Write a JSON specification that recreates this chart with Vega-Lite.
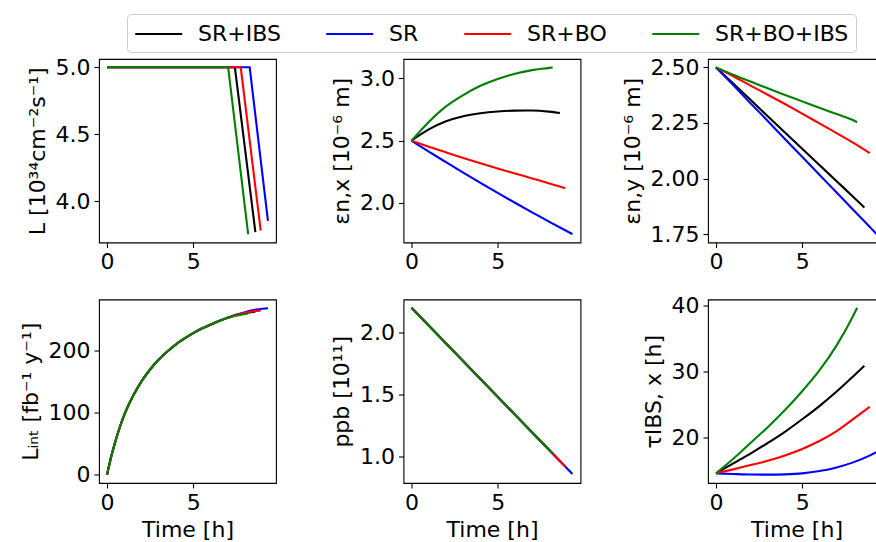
{
  "$schema": "https://vega.github.io/schema/vega-lite/v6.json",
  "padding": {"left": 18, "top": 13, "right": 0, "bottom": 0},
  "background": "white",
  "datasets": {
    "L": [
      {"s": "SR+IBS", "t": 0, "v": 5.0}, {"s": "SR+IBS", "t": 7.42, "v": 5.0}, {"s": "SR+IBS", "t": 8.61, "v": 3.77},
      {"s": "SR", "t": 0, "v": 5.0}, {"s": "SR", "t": 8.28, "v": 5.0}, {"s": "SR", "t": 9.34, "v": 3.853},
      {"s": "SR+BO", "t": 0, "v": 5.0}, {"s": "SR+BO", "t": 7.76, "v": 5.0}, {"s": "SR+BO", "t": 8.92, "v": 3.78},
      {"s": "SR+BO+IBS", "t": 0, "v": 5.0}, {"s": "SR+BO+IBS", "t": 7.03, "v": 5.0}, {"s": "SR+BO+IBS", "t": 8.19, "v": 3.754}
    ],
    "ex": [
      {"s": "SR+IBS", "t": 0, "v": 2.5}, {"s": "SR+IBS", "t": 1, "v": 2.59}, {"s": "SR+IBS", "t": 2, "v": 2.655}, {"s": "SR+IBS", "t": 3, "v": 2.696}, {"s": "SR+IBS", "t": 4, "v": 2.72}, {"s": "SR+IBS", "t": 5, "v": 2.734}, {"s": "SR+IBS", "t": 6, "v": 2.741}, {"s": "SR+IBS", "t": 7, "v": 2.742}, {"s": "SR+IBS", "t": 8, "v": 2.733}, {"s": "SR+IBS", "t": 8.61, "v": 2.722},
      {"s": "SR", "t": 0, "v": 2.5}, {"s": "SR", "t": 1, "v": 2.412}, {"s": "SR", "t": 2, "v": 2.327}, {"s": "SR", "t": 3, "v": 2.243}, {"s": "SR", "t": 4, "v": 2.161}, {"s": "SR", "t": 5, "v": 2.081}, {"s": "SR", "t": 6, "v": 2.002}, {"s": "SR", "t": 7, "v": 1.924}, {"s": "SR", "t": 8, "v": 1.849}, {"s": "SR", "t": 9, "v": 1.775}, {"s": "SR", "t": 9.34, "v": 1.75},
      {"s": "SR+BO", "t": 0, "v": 2.5}, {"s": "SR+BO", "t": 1, "v": 2.452}, {"s": "SR+BO", "t": 2, "v": 2.406}, {"s": "SR+BO", "t": 3, "v": 2.361}, {"s": "SR+BO", "t": 4, "v": 2.318}, {"s": "SR+BO", "t": 5, "v": 2.277}, {"s": "SR+BO", "t": 6, "v": 2.237}, {"s": "SR+BO", "t": 7, "v": 2.197}, {"s": "SR+BO", "t": 8, "v": 2.157}, {"s": "SR+BO", "t": 8.92, "v": 2.118},
      {"s": "SR+BO+IBS", "t": 0, "v": 2.5}, {"s": "SR+BO+IBS", "t": 1, "v": 2.65}, {"s": "SR+BO+IBS", "t": 2, "v": 2.775}, {"s": "SR+BO+IBS", "t": 3, "v": 2.866}, {"s": "SR+BO+IBS", "t": 4, "v": 2.94}, {"s": "SR+BO+IBS", "t": 5, "v": 2.995}, {"s": "SR+BO+IBS", "t": 6, "v": 3.037}, {"s": "SR+BO+IBS", "t": 7, "v": 3.066}, {"s": "SR+BO+IBS", "t": 8, "v": 3.084}, {"s": "SR+BO+IBS", "t": 8.19, "v": 3.088}
    ],
    "ey": [
      {"s": "SR+IBS", "t": 0, "v": 2.5}, {"s": "SR+IBS", "t": 1, "v": 2.427}, {"s": "SR+IBS", "t": 2, "v": 2.354}, {"s": "SR+IBS", "t": 3, "v": 2.28}, {"s": "SR+IBS", "t": 4, "v": 2.207}, {"s": "SR+IBS", "t": 5, "v": 2.134}, {"s": "SR+IBS", "t": 6, "v": 2.061}, {"s": "SR+IBS", "t": 7, "v": 1.988}, {"s": "SR+IBS", "t": 8, "v": 1.915}, {"s": "SR+IBS", "t": 8.61, "v": 1.87},
      {"s": "SR", "t": 0, "v": 2.5}, {"s": "SR", "t": 1, "v": 2.42}, {"s": "SR", "t": 2, "v": 2.339}, {"s": "SR", "t": 3, "v": 2.259}, {"s": "SR", "t": 4, "v": 2.178}, {"s": "SR", "t": 5, "v": 2.098}, {"s": "SR", "t": 6, "v": 2.017}, {"s": "SR", "t": 7, "v": 1.937}, {"s": "SR", "t": 8, "v": 1.856}, {"s": "SR", "t": 9, "v": 1.776}, {"s": "SR", "t": 9.34, "v": 1.748},
      {"s": "SR+BO", "t": 0, "v": 2.5}, {"s": "SR+BO", "t": 1, "v": 2.46}, {"s": "SR+BO", "t": 2, "v": 2.418}, {"s": "SR+BO", "t": 3, "v": 2.377}, {"s": "SR+BO", "t": 4, "v": 2.335}, {"s": "SR+BO", "t": 5, "v": 2.292}, {"s": "SR+BO", "t": 6, "v": 2.248}, {"s": "SR+BO", "t": 7, "v": 2.204}, {"s": "SR+BO", "t": 8, "v": 2.159}, {"s": "SR+BO", "t": 8.92, "v": 2.114},
      {"s": "SR+BO+IBS", "t": 0, "v": 2.5}, {"s": "SR+BO+IBS", "t": 1, "v": 2.467}, {"s": "SR+BO+IBS", "t": 2, "v": 2.436}, {"s": "SR+BO+IBS", "t": 3, "v": 2.406}, {"s": "SR+BO+IBS", "t": 4, "v": 2.376}, {"s": "SR+BO+IBS", "t": 5, "v": 2.347}, {"s": "SR+BO+IBS", "t": 6, "v": 2.318}, {"s": "SR+BO+IBS", "t": 7, "v": 2.29}, {"s": "SR+BO+IBS", "t": 8, "v": 2.261}, {"s": "SR+BO+IBS", "t": 8.19, "v": 2.253}
    ],
    "lint": [
      {"s": "SR+IBS", "t": 0, "v": 0}, {"s": "SR+IBS", "t": 0.25, "v": 30}, {"s": "SR+IBS", "t": 0.5, "v": 55}, {"s": "SR+IBS", "t": 0.75, "v": 77}, {"s": "SR+IBS", "t": 1, "v": 96}, {"s": "SR+IBS", "t": 1.5, "v": 126}, {"s": "SR+IBS", "t": 2, "v": 150}, {"s": "SR+IBS", "t": 2.5, "v": 169}, {"s": "SR+IBS", "t": 3, "v": 185}, {"s": "SR+IBS", "t": 3.5, "v": 198}, {"s": "SR+IBS", "t": 4, "v": 209.5}, {"s": "SR+IBS", "t": 4.5, "v": 219}, {"s": "SR+IBS", "t": 5, "v": 227.5}, {"s": "SR+IBS", "t": 5.5, "v": 235}, {"s": "SR+IBS", "t": 6, "v": 241}, {"s": "SR+IBS", "t": 6.5, "v": 247}, {"s": "SR+IBS", "t": 7, "v": 252}, {"s": "SR+IBS", "t": 7.42, "v": 256}, {"s": "SR+IBS", "t": 8, "v": 259.8}, {"s": "SR+IBS", "t": 8.61, "v": 262},
      {"s": "SR", "t": 0, "v": 0}, {"s": "SR", "t": 0.25, "v": 30}, {"s": "SR", "t": 0.5, "v": 55}, {"s": "SR", "t": 0.75, "v": 77}, {"s": "SR", "t": 1, "v": 96}, {"s": "SR", "t": 1.5, "v": 126}, {"s": "SR", "t": 2, "v": 150}, {"s": "SR", "t": 2.5, "v": 169}, {"s": "SR", "t": 3, "v": 185}, {"s": "SR", "t": 3.5, "v": 198}, {"s": "SR", "t": 4, "v": 209.5}, {"s": "SR", "t": 4.5, "v": 219}, {"s": "SR", "t": 5, "v": 227.5}, {"s": "SR", "t": 5.5, "v": 235}, {"s": "SR", "t": 6, "v": 241}, {"s": "SR", "t": 6.5, "v": 247}, {"s": "SR", "t": 7, "v": 252}, {"s": "SR", "t": 7.5, "v": 256.8}, {"s": "SR", "t": 8, "v": 261}, {"s": "SR", "t": 8.28, "v": 263.2}, {"s": "SR", "t": 8.8, "v": 265.8}, {"s": "SR", "t": 9.34, "v": 267.5},
      {"s": "SR+BO", "t": 0, "v": 0}, {"s": "SR+BO", "t": 0.25, "v": 30}, {"s": "SR+BO", "t": 0.5, "v": 55}, {"s": "SR+BO", "t": 0.75, "v": 77}, {"s": "SR+BO", "t": 1, "v": 96}, {"s": "SR+BO", "t": 1.5, "v": 126}, {"s": "SR+BO", "t": 2, "v": 150}, {"s": "SR+BO", "t": 2.5, "v": 169}, {"s": "SR+BO", "t": 3, "v": 185}, {"s": "SR+BO", "t": 3.5, "v": 198}, {"s": "SR+BO", "t": 4, "v": 209.5}, {"s": "SR+BO", "t": 4.5, "v": 219}, {"s": "SR+BO", "t": 5, "v": 227.5}, {"s": "SR+BO", "t": 5.5, "v": 235}, {"s": "SR+BO", "t": 6, "v": 241}, {"s": "SR+BO", "t": 6.5, "v": 247}, {"s": "SR+BO", "t": 7, "v": 252}, {"s": "SR+BO", "t": 7.5, "v": 256.8}, {"s": "SR+BO", "t": 7.76, "v": 258.7}, {"s": "SR+BO", "t": 8.3, "v": 261.8}, {"s": "SR+BO", "t": 8.92, "v": 264},
      {"s": "SR+BO+IBS", "t": 0, "v": 0}, {"s": "SR+BO+IBS", "t": 0.25, "v": 30}, {"s": "SR+BO+IBS", "t": 0.5, "v": 55}, {"s": "SR+BO+IBS", "t": 0.75, "v": 77}, {"s": "SR+BO+IBS", "t": 1, "v": 96}, {"s": "SR+BO+IBS", "t": 1.5, "v": 126}, {"s": "SR+BO+IBS", "t": 2, "v": 150}, {"s": "SR+BO+IBS", "t": 2.5, "v": 169}, {"s": "SR+BO+IBS", "t": 3, "v": 185}, {"s": "SR+BO+IBS", "t": 3.5, "v": 198}, {"s": "SR+BO+IBS", "t": 4, "v": 209.5}, {"s": "SR+BO+IBS", "t": 4.5, "v": 219}, {"s": "SR+BO+IBS", "t": 5, "v": 227.5}, {"s": "SR+BO+IBS", "t": 5.5, "v": 235}, {"s": "SR+BO+IBS", "t": 6, "v": 241}, {"s": "SR+BO+IBS", "t": 6.5, "v": 247}, {"s": "SR+BO+IBS", "t": 7, "v": 252}, {"s": "SR+BO+IBS", "t": 7.6, "v": 256}, {"s": "SR+BO+IBS", "t": 8.19, "v": 259}
    ],
    "ppb": [
      {"s": "SR+IBS", "t": 0, "v": 2.2}, {"s": "SR+IBS", "t": 4, "v": 1.627}, {"s": "SR+IBS", "t": 8.61, "v": 0.966},
      {"s": "SR", "t": 0, "v": 2.2}, {"s": "SR", "t": 4, "v": 1.627}, {"s": "SR", "t": 9.34, "v": 0.862},
      {"s": "SR+BO", "t": 0, "v": 2.2}, {"s": "SR+BO", "t": 4, "v": 1.627}, {"s": "SR+BO", "t": 8.92, "v": 0.922},
      {"s": "SR+BO+IBS", "t": 0, "v": 2.2}, {"s": "SR+BO+IBS", "t": 4, "v": 1.627}, {"s": "SR+BO+IBS", "t": 8.19, "v": 1.026}
    ],
    "tau": [
      {"s": "SR+IBS", "t": 0, "v": 14.6}, {"s": "SR+IBS", "t": 1, "v": 16.1}, {"s": "SR+IBS", "t": 2, "v": 17.6}, {"s": "SR+IBS", "t": 3, "v": 19.2}, {"s": "SR+IBS", "t": 4, "v": 20.9}, {"s": "SR+IBS", "t": 5, "v": 22.8}, {"s": "SR+IBS", "t": 6, "v": 24.8}, {"s": "SR+IBS", "t": 7, "v": 27.0}, {"s": "SR+IBS", "t": 8, "v": 29.4}, {"s": "SR+IBS", "t": 8.61, "v": 30.9},
      {"s": "SR", "t": 0, "v": 14.6}, {"s": "SR", "t": 1, "v": 14.5}, {"s": "SR", "t": 2, "v": 14.42}, {"s": "SR", "t": 3, "v": 14.4}, {"s": "SR", "t": 4, "v": 14.45}, {"s": "SR", "t": 5, "v": 14.6}, {"s": "SR", "t": 6, "v": 14.95}, {"s": "SR", "t": 7, "v": 15.5}, {"s": "SR", "t": 8, "v": 16.3}, {"s": "SR", "t": 9, "v": 17.4}, {"s": "SR", "t": 9.34, "v": 17.85},
      {"s": "SR+BO", "t": 0, "v": 14.6}, {"s": "SR+BO", "t": 1, "v": 15.2}, {"s": "SR+BO", "t": 2, "v": 15.85}, {"s": "SR+BO", "t": 3, "v": 16.5}, {"s": "SR+BO", "t": 4, "v": 17.3}, {"s": "SR+BO", "t": 5, "v": 18.3}, {"s": "SR+BO", "t": 6, "v": 19.5}, {"s": "SR+BO", "t": 7, "v": 21.0}, {"s": "SR+BO", "t": 8, "v": 22.9}, {"s": "SR+BO", "t": 8.92, "v": 24.7},
      {"s": "SR+BO+IBS", "t": 0, "v": 14.6}, {"s": "SR+BO+IBS", "t": 1, "v": 16.8}, {"s": "SR+BO+IBS", "t": 2, "v": 19.2}, {"s": "SR+BO+IBS", "t": 3, "v": 21.6}, {"s": "SR+BO+IBS", "t": 4, "v": 24.2}, {"s": "SR+BO+IBS", "t": 5, "v": 27.05}, {"s": "SR+BO+IBS", "t": 6, "v": 30.2}, {"s": "SR+BO+IBS", "t": 7, "v": 34.0}, {"s": "SR+BO+IBS", "t": 8, "v": 38.7}, {"s": "SR+BO+IBS", "t": 8.19, "v": 39.7}
    ]
  },
  "columns": 3,
  "spacing": {"row": 56.5, "column": 127.5},
  "bounds": "flush",
  "concat": [
    {
      "width": 177, "height": 183.5,
      "data": {"name": "L"},
      "mark": {"type": "line", "strokeWidth": 2.1},
      "encoding": {
        "x": {"field": "t", "type": "quantitative", "scale": {"domain": [-0.467, 9.807], "nice": false, "zero": false}, "axis": {"values": [0, 5], "title": null}},
        "y": {"field": "v", "type": "quantitative", "scale": {"domain": [3.692, 5.062], "nice": false, "zero": false}, "axis": {"values": [4.0, 4.5, 5.0], "format": ".1f", "title": "L [10³⁴cm⁻²s⁻¹]"}},
        "color": {"field": "s", "type": "nominal", "scale": {"domain": ["SR+IBS", "SR", "SR+BO", "SR+BO+IBS"], "range": ["#000000", "#0000ff", "#ff0000", "#008000"]}, "legend": {"orient": "none", "legendX": 28, "legendY": -45, "direction": "horizontal", "columns": 4, "title": null}},
        "order": {"field": "t", "type": "quantitative"}
      }
    },
    {
      "width": 177, "height": 183.5,
      "data": {"name": "ex"},
      "mark": {"type": "line", "strokeWidth": 2.1, "interpolate": "monotone"},
      "encoding": {
        "x": {"field": "t", "type": "quantitative", "scale": {"domain": [-0.467, 9.807], "nice": false, "zero": false}, "axis": {"values": [0, 5], "title": null}},
        "y": {"field": "v", "type": "quantitative", "scale": {"domain": [1.683, 3.155], "nice": false, "zero": false}, "axis": {"values": [2.0, 2.5, 3.0], "format": ".1f", "title": "εn,x [10⁻⁶ m]"}},
        "color": {"field": "s", "type": "nominal", "scale": {"domain": ["SR+IBS", "SR", "SR+BO", "SR+BO+IBS"], "range": ["#000000", "#0000ff", "#ff0000", "#008000"]}, "legend": {"orient": "none", "legendX": 28, "legendY": -45, "direction": "horizontal", "columns": 4, "title": null}},
        "order": {"field": "t", "type": "quantitative"}
      }
    },
    {
      "width": 177, "height": 183.5,
      "data": {"name": "ey"},
      "mark": {"type": "line", "strokeWidth": 2.1, "interpolate": "monotone"},
      "encoding": {
        "x": {"field": "t", "type": "quantitative", "scale": {"domain": [-0.467, 9.807], "nice": false, "zero": false}, "axis": {"values": [0, 5], "title": null}},
        "y": {"field": "v", "type": "quantitative", "scale": {"domain": [1.7125, 2.5375], "nice": false, "zero": false}, "axis": {"values": [1.75, 2.0, 2.25, 2.5], "format": ".2f", "title": "εn,y [10⁻⁶ m]"}},
        "color": {"field": "s", "type": "nominal", "scale": {"domain": ["SR+IBS", "SR", "SR+BO", "SR+BO+IBS"], "range": ["#000000", "#0000ff", "#ff0000", "#008000"]}, "legend": {"orient": "none", "legendX": 28, "legendY": -45, "direction": "horizontal", "columns": 4, "title": null}},
        "order": {"field": "t", "type": "quantitative"}
      }
    },
    {
      "width": 177, "height": 183.5,
      "data": {"name": "lint"},
      "mark": {"type": "line", "strokeWidth": 2.1, "interpolate": "monotone"},
      "encoding": {
        "x": {"field": "t", "type": "quantitative", "scale": {"domain": [-0.467, 9.807], "nice": false, "zero": false}, "axis": {"values": [0, 5], "title": "Time [h]"}},
        "y": {"field": "v", "type": "quantitative", "scale": {"domain": [-13.4, 281.5], "nice": false, "zero": false}, "axis": {"values": [0, 100, 200], "title": "Lᵢₙₜ [fb⁻¹ y⁻¹]"}},
        "color": {"field": "s", "type": "nominal", "scale": {"domain": ["SR+IBS", "SR", "SR+BO", "SR+BO+IBS"], "range": ["#000000", "#0000ff", "#ff0000", "#008000"]}, "legend": {"orient": "none", "legendX": 28, "legendY": -45, "direction": "horizontal", "columns": 4, "title": null}},
        "order": {"field": "t", "type": "quantitative"}
      }
    },
    {
      "width": 177, "height": 183.5,
      "data": {"name": "ppb"},
      "mark": {"type": "line", "strokeWidth": 2.1},
      "encoding": {
        "x": {"field": "t", "type": "quantitative", "scale": {"domain": [-0.467, 9.807], "nice": false, "zero": false}, "axis": {"values": [0, 5], "title": "Time [h]"}},
        "y": {"field": "v", "type": "quantitative", "scale": {"domain": [0.789, 2.267], "nice": false, "zero": false}, "axis": {"values": [1.0, 1.5, 2.0], "format": ".1f", "title": "ppb [10¹¹]"}},
        "color": {"field": "s", "type": "nominal", "scale": {"domain": ["SR+IBS", "SR", "SR+BO", "SR+BO+IBS"], "range": ["#000000", "#0000ff", "#ff0000", "#008000"]}, "legend": {"orient": "none", "legendX": 28, "legendY": -45, "direction": "horizontal", "columns": 4, "title": null}},
        "order": {"field": "t", "type": "quantitative"}
      }
    },
    {
      "width": 177, "height": 183.5,
      "data": {"name": "tau"},
      "mark": {"type": "line", "strokeWidth": 2.1, "interpolate": "monotone"},
      "encoding": {
        "x": {"field": "t", "type": "quantitative", "scale": {"domain": [-0.467, 9.807], "nice": false, "zero": false}, "axis": {"values": [0, 5], "title": "Time [h]"}},
        "y": {"field": "v", "type": "quantitative", "scale": {"domain": [13.135, 40.965], "nice": false, "zero": false}, "axis": {"values": [20, 30, 40], "title": "τIBS, x [h]"}},
        "color": {"field": "s", "type": "nominal", "scale": {"domain": ["SR+IBS", "SR", "SR+BO", "SR+BO+IBS"], "range": ["#000000", "#0000ff", "#ff0000", "#008000"]}, "legend": {"orient": "none", "legendX": 28, "legendY": -45, "direction": "horizontal", "columns": 4, "title": null}},
        "order": {"field": "t", "type": "quantitative"}
      }
    }
  ],
  "config": {
    "font": "DejaVu Sans",
    "view": {"stroke": "#000000", "strokeWidth": 1.1},
    "axis": {
      "domain": false, "grid": false, "ticks": true, "tickSize": 5, "tickWidth": 1.1, "tickColor": "#000000",
      "labelFont": "DejaVu Sans", "labelFontSize": 22, "labelColor": "#000000", "labelPadding": 4, "labelFlush": false, "labelOverlap": false,
      "titleFont": "DejaVu Sans", "titleFontSize": 22, "titleFontWeight": "normal", "titleColor": "#000000", "titlePadding": 6
    },
    "legend": {
      "symbolType": "M-1,0H3", "symbolSize": 552, "symbolStrokeWidth": 2.1,
      "labelFont": "DejaVu Sans", "labelFontSize": 22, "labelColor": "#000000", "labelOffset": 38,
      "columnPadding": 41, "padding": 7, "strokeColor": "#cccccc", "fillColor": "#ffffff", "cornerRadius": 4
    }
  }
}
